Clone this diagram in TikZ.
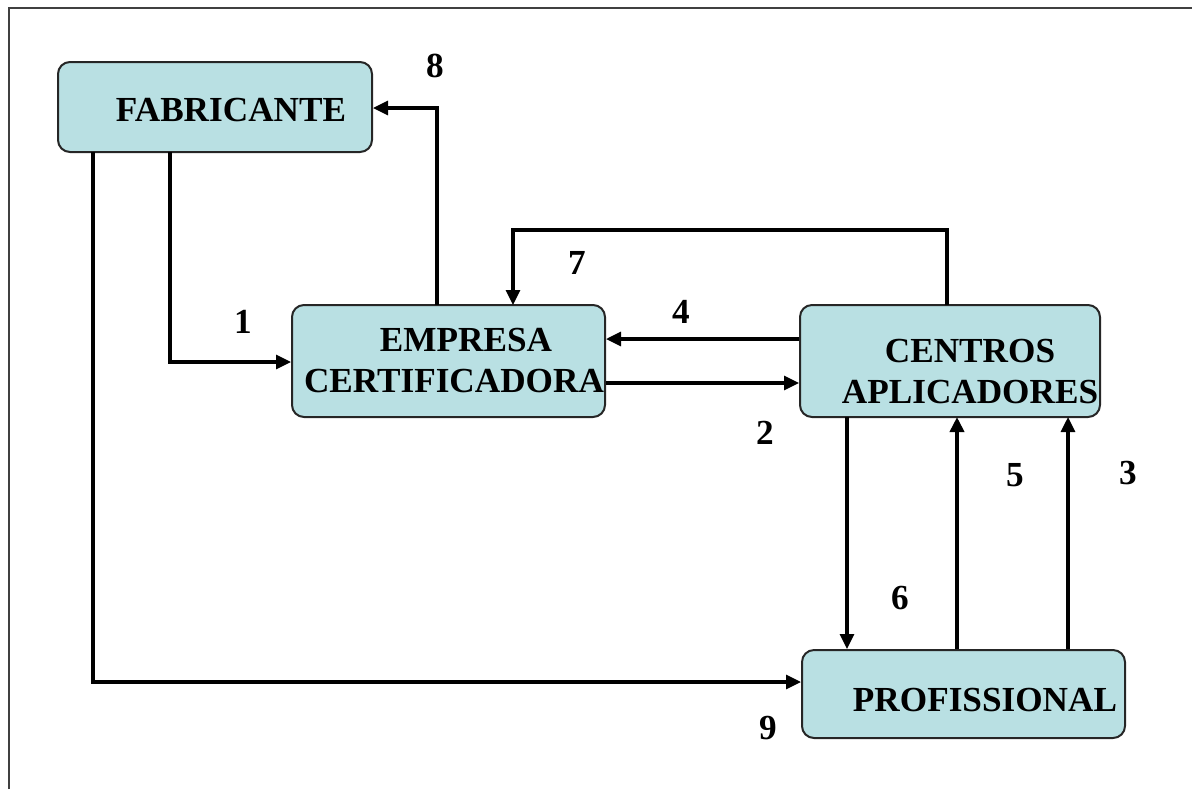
\documentclass[tikz,border=0pt]{standalone}
\usepackage{fontspec}
\setmainfont{Liberation Serif}
\usetikzlibrary{arrows.meta}
\definecolor{boxfill}{RGB}{185,224,227}
\definecolor{framegray}{RGB}{64,64,64}
\tikzset{
  unitbox/.style={draw=black!85, line width=1pt, fill=boxfill, rounded corners=6pt,
    inner sep=0pt},
  boxtext/.style={font=\fontsize{17.6}{20.5}\selectfont\bfseries, align=center, inner sep=0pt},
  conn/.style={line width=1.55pt, -{Triangle[length=7.5pt,width=7pt]}},
  num/.style={font=\fontsize{17.6}{20.5}\selectfont\bfseries, inner sep=0pt},
  frameline/.style={draw=framegray, line width=1.1pt}
}
\begin{document}
\begin{tikzpicture}[x=0.5pt, y=-0.5pt]
\useasboundingbox (0,0) rectangle (1192,789);

% outer frame (top and left edges)
\draw[frameline] (9,789) -- (9,8) -- (1192,8);

% boxes
\node[unitbox, minimum width=157pt, minimum height=45pt] (fab) at (215,107) {};
\node[boxtext] (fabt) at (231,110) {FABRICANTE};

\node[unitbox, minimum width=156.5pt, minimum height=56pt] (emp) at (448.5,361) {};
\node[boxtext] (empt) at (454,361) {\hspace*{12pt}EMPRESA\\CERTIFICADORA};

\node[unitbox, minimum width=150pt, minimum height=56pt] (cen) at (950,361) {};
\node[boxtext] (cent) at (970,372) {CENTROS\\APLICADORES};

\node[unitbox, minimum width=161.5pt, minimum height=44pt] (pro) at (963.5,694) {};
\node[boxtext] (prot) at (985,700) {PROFISSIONAL};

% connection points
\coordinate (fabA) at (170,152);
\coordinate (fabB) at (93,152);
\coordinate (empTopL) at (513,305);
\coordinate (empTopR) at (437,305);
\coordinate (cenTop) at (947,305);
\coordinate (cenBotL) at (847,417);
\coordinate (cenBotM) at (957,417);
\coordinate (cenBotR) at (1068,417);

% 1: fabricante -> empresa
\draw[conn] (fabA) |- (emp.west |- 0,362);
% 9: fabricante -> profissional
\draw[conn] (fabB) |- (pro.west |- 0,682);
% 8: empresa -> fabricante
\draw[conn] (empTopR) |- (fab.east |- 0,108);
% 7: centros -> empresa
\draw[conn] (cenTop) -- (947,230) -| (empTopL);
% 4: centros -> empresa
\draw[conn] (cen.west |- 0,339) -- (emp.east |- 0,339);
% 2: empresa -> centros
\draw[conn] (emp.east |- 0,383) -- (cen.west |- 0,383);
% 6: centros -> profissional
\draw[conn] (cenBotL) -- (cenBotL |- pro.north);
% 5: profissional -> centros
\draw[conn, line width=2.2pt] (cenBotM |- pro.north) -- (cenBotM);
% 3: profissional -> centros
\draw[conn] (cenBotR |- pro.north) -- (cenBotR);

% step numbers
\node[num] (n1) at (243,322) {1};
\node[num] (n2) at (765,433) {2};
\node[num] (n3) at (1128,473) {3};
\node[num] (n4) at (681,312) {4};
\node[num] (n5) at (1015,475) {5};
\node[num] (n6) at (900,598) {6};
\node[num] (n7) at (577,263) {7};
\node[num] (n8) at (435,66) {8};
\node[num] (n9) at (768,728) {9};
\end{tikzpicture}
\end{document}
